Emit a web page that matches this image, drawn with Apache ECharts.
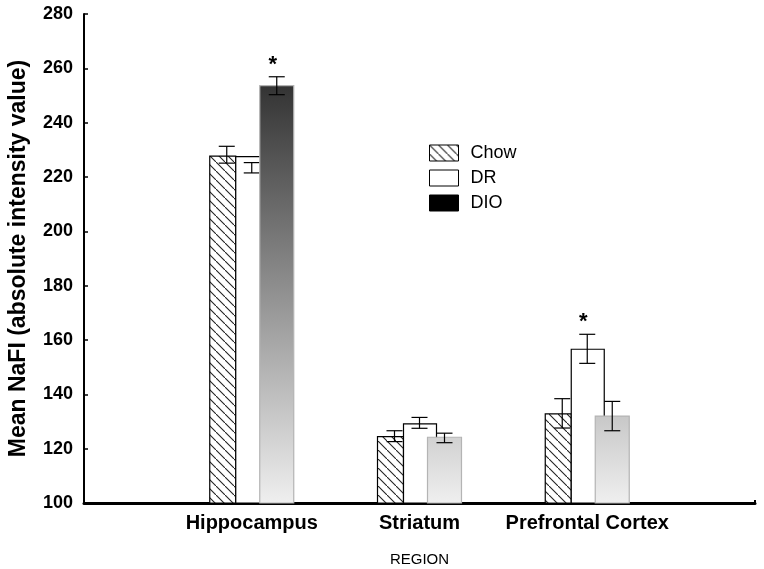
<!DOCTYPE html>
<html>
<head>
<meta charset="utf-8">
<script src="https://cdn.jsdelivr.net/npm/echarts/dist/echarts.min.js"></script>
<style>
  html, body { margin: 0; padding: 0; background: #fff; }
  #chart { width: 764px; height: 569px; }
</style>
</head>
<body>
<div id="chart"></div>
<script>
// categories (empty ends give the axis its extra room on both sides)
var regions = ['', 'Hippocampus', 'Striatum', 'Prefrontal Cortex', ''];
var yTicks = [100, 120, 140, 160, 180, 200, 220, 240, 260, 280];

// means and error bar ends
var chowMean = [227.7, 124.4, 132.8];
var chowLow  = [225.1, 122.6, 127.6];
var chowHigh = [231.3, 126.6, 138.4];

var drMean = [227.5, 129.1, 156.6];
var drLow  = [221.5, 127.5, 151.4];
var drHigh = [225.3, 131.5, 162.1];

var dioMean = [253.6, 124.2, 132.0];
var dioLow  = [250.3, 122.2, 126.6];
var dioHigh = [256.9, 125.7, 137.4];

// significance stars: [region index, group]
var stars = [[1, 'DIO'], [3, 'DR']];

var FONT = 'Liberation Sans, Arial, sans-serif';

// hatch pattern for Chow
function makeHatch() {
  var c = document.createElement('canvas');
  c.width = 9; c.height = 9;
  var ctx = c.getContext('2d');
  ctx.fillStyle = '#fff';
  ctx.fillRect(0, 0, 9, 9);
  ctx.strokeStyle = '#222';
  ctx.lineWidth = 1.1;
  ctx.beginPath();
  ctx.moveTo(-1, -1); ctx.lineTo(10, 10);
  ctx.stroke();
  return c;
}
var hatch = { image: makeHatch(), repeat: 'repeat' };

function buildData(mean, low, high) {
  return mean.map(function (m, i) { return [i + 1, m, low[i], high[i]]; });
}

// pixel offsets of each group around the category center
var layout = {
  Chow: { left: -42, right: -16, err: -25 },
  DR:   { left: -16, right: 17,  err: 0 },
  DIO:  { left: 8,   right: 42,  err: 25 }
};

function makeRender(name) {
  return function (params, api) {
    var idx = api.value(0);
    var base = api.coord([idx, 100]);
    var top = api.coord([idx, api.value(1)]);
    var lo = api.coord([idx, api.value(2)]);
    var hi = api.coord([idx, api.value(3)]);
    var cx = base[0];
    var L = layout[name];
    var fill, stroke;
    if (name === 'Chow') { fill = hatch; stroke = '#000'; }
    else if (name === 'DR') { fill = '#fff'; stroke = '#000'; }
    else {
      var yb = api.coord([idx, 100])[1];
      var yt = api.coord([idx, 254])[1];
      fill = { type: 'linear', x: 0, y: yt, x2: 0, y2: yb, global: true,
        colorStops: [{ offset: 0, color: '#333' }, { offset: 1, color: '#efefef' }] };
      stroke = '#b4b4b4';
    }
    var ex = cx + L.err;
    var children = [
      { type: 'rect', shape: { x: cx + L.left, y: top[1], width: L.right - L.left, height: base[1] - top[1] },
        style: { fill: fill, stroke: stroke, lineWidth: 1.2 } },
      { type: 'line', shape: { x1: ex, y1: hi[1], x2: ex, y2: lo[1] }, style: { stroke: '#000', lineWidth: 1.2 } },
      { type: 'line', shape: { x1: ex - 8, y1: hi[1], x2: ex + 8, y2: hi[1] }, style: { stroke: '#000', lineWidth: 1.2 } },
      { type: 'line', shape: { x1: ex - 8, y1: lo[1], x2: ex + 8, y2: lo[1] }, style: { stroke: '#000', lineWidth: 1.2 } }
    ];
    stars.forEach(function (s) {
      if (s[0] === idx && s[1] === name) {
        children.push({ type: 'text', style: { x: ex - 4, y: hi[1] - 12, text: '*', fill: '#000',
          font: 'bold 22px ' + FONT, textAlign: 'center', textVerticalAlign: 'middle' } });
      }
    });
    return { type: 'group', children: children };
  };
}

var chart = echarts.init(document.getElementById('chart'));
chart.setOption({
  backgroundColor: '#fff',
  animation: false,
  textStyle: { fontFamily: FONT },
  grid: { left: 84, right: 9, top: 14, bottom: 66, outerBoundsMode: 'none', containLabel: false },
  legend: {
    orient: 'vertical', left: 429, top: 144, padding: 0,
    itemWidth: 29, itemHeight: 16, itemGap: 7, selectedMode: false,
    icon: 'rect',
    textStyle: { fontSize: 18, color: '#000', padding: [0, 0, 0, 7], fontFamily: FONT },
    data: [
      { name: 'Chow', itemStyle: { color: hatch, borderColor: '#000', borderWidth: 1 } },
      { name: 'DR', itemStyle: { color: '#fff', borderColor: '#000', borderWidth: 1 } },
      { name: 'DIO', itemStyle: { color: '#000', borderColor: '#000', borderWidth: 1 } }
    ]
  },
  xAxis: {
    type: 'category', data: regions, boundaryGap: false,
    name: 'REGION', nameLocation: 'middle', nameGap: 49,
    nameTextStyle: { fontSize: 15, color: '#000' },
    axisLine: { lineStyle: { color: '#000', width: 3 } },
    axisTick: { inside: true, length: 3, lineStyle: { color: '#000', width: 2 } },
    axisLabel: { interval: 0, margin: 10, fontSize: 20, fontWeight: 'bold', color: '#000' }
  },
  yAxis: {
    type: 'value', min: yTicks[0], max: yTicks[yTicks.length - 1], interval: 20,
    name: 'Mean NaFI (absolute intensity value)', nameLocation: 'middle', nameGap: 54,
    nameTextStyle: { fontSize: 23, fontWeight: 'bold', color: '#000' },
    axisLine: { show: true, lineStyle: { color: '#000', width: 2 } },
    axisTick: { show: true, inside: true, length: 4, lineStyle: { color: '#000', width: 1.5 } },
    axisLabel: { margin: 11, fontSize: 18, fontWeight: 'bold', color: '#000' },
    splitLine: { show: false }
  },
  series: [
    { name: 'Chow', type: 'custom', renderItem: makeRender('Chow'), data: buildData(chowMean, chowLow, chowHigh) },
    { name: 'DR', type: 'custom', renderItem: makeRender('DR'), data: buildData(drMean, drLow, drHigh) },
    { name: 'DIO', type: 'custom', renderItem: makeRender('DIO'), data: buildData(dioMean, dioLow, dioHigh) }
  ]
});
</script>
</body>
</html>
